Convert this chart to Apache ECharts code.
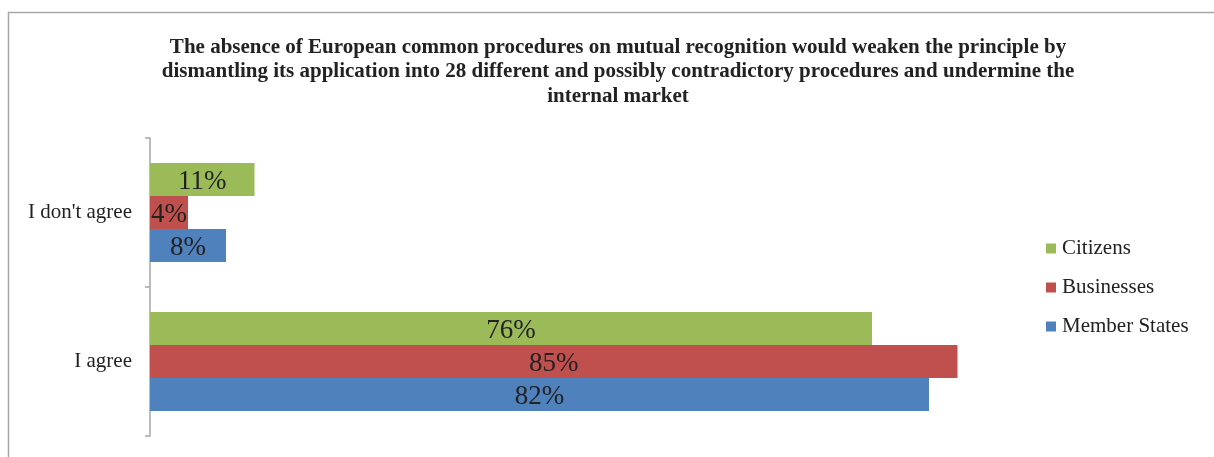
<!DOCTYPE html>
<html>
<head>
<meta charset="utf-8">
<script src="https://cdn.jsdelivr.net/npm/echarts@6/dist/echarts.min.js"></script>
<style>
  html, body { margin: 0; padding: 0; background: #fff; }
  #chart { width: 1214px; height: 457px; }
</style>
</head>
<body>
<div id="chart"></div>
<script>
// data
const categories = ['I agree', "I don't agree"]
const memberStates = [82, 8]
const businesses = [85, 4]
const citizens = [76, 11]
const colors = { citizens: '#9bbb59', businesses: '#c0504d', member: '#4f81bd' }
const serif = '"Liberation Serif", "Times New Roman", serif'

const chart = echarts.init(document.getElementById('chart'))

function barSeries (name, data, color) {
  return {
    name: name,
    type: 'bar',
    data: data,
    barGap: '0%',
    barCategoryGap: '33.5%',
    itemStyle: { color: color },
    label: {
      show: true,
      position: 'inside',
      offset: [0, 2],
      formatter: '{c}%',
      fontFamily: serif,
      fontSize: 27,
      color: '#222'
    },
    emphasis: { disabled: true }
  }
}

const option = {
  backgroundColor: '#fff',
  animation: false,
  title: {
    text: 'The absence of European common procedures on mutual recognition would weaken the principle by\ndismantling its application into 28 different and possibly contradictory procedures and undermine the\ninternal market',
    left: 613,
    top: 30,
    textAlign: 'center',
    textStyle: {
      fontFamily: serif,
      fontSize: 21,
      fontWeight: 'bold',
      color: '#222',
      lineHeight: 24.5
    }
  },
  legend: {
    orient: 'vertical',
    left: 1046,
    top: 238,
    padding: 0,
    itemWidth: 10,
    itemHeight: 10,
    itemGap: 18,
    icon: 'rect',
    // top to bottom as in the picture
    data: ['Citizens', 'Businesses', 'Member States'],
    textStyle: { fontFamily: serif, fontSize: 21, color: '#222', padding: [0, 0, 0, 1] }
  },
  grid: { left: 150, top: 138, height: 298, width: 855, containLabel: false },
  xAxis: {
    type: 'value',
    min: 0,
    max: 90,
    show: false
  },
  yAxis: {
    type: 'category',
    data: categories,
    axisLine: { lineStyle: { color: '#a6a6a6', width: 1.5 } },
    axisTick: { show: true, length: 5, lineStyle: { color: '#a6a6a6', width: 1.5 } },
    axisLabel: { fontFamily: serif, fontSize: 21, color: '#222', margin: 18 }
  },
  graphic: [{
    type: 'rect',
    shape: { x: 8.5, y: 12.5, width: 1220, height: 460 },
    style: { fill: null, stroke: '#a6a6a6', lineWidth: 1.5 },
    silent: true
  }],
  // first series sits on top inside each group
  series: [
    barSeries('Citizens', citizens, colors.citizens),
    barSeries('Businesses', businesses, colors.businesses),
    barSeries('Member States', memberStates, colors.member)
  ]
}

chart.setOption(option)
</script>
</body>
</html>
